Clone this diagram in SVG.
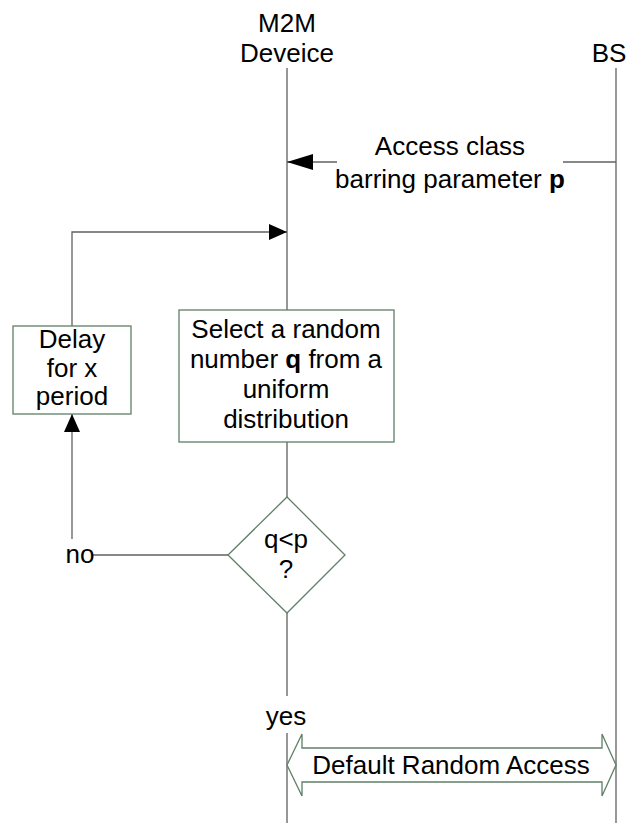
<svg xmlns="http://www.w3.org/2000/svg" width="635" height="823" viewBox="0 0 635 823">
  <style>
    text { font-family: "Liberation Sans", Arial, sans-serif; font-size: 26px; fill: #000; text-anchor: middle; }
    .life { stroke: #606060; stroke-width: 1.3; fill: none; }
    .conn { stroke: #606060; stroke-width: 1.3; fill: none; }
    .box { fill: #fff; stroke: #5f7f66; stroke-width: 1.3; }
    .b { font-weight: bold; }
  </style>
  <defs>
    <marker id="tri" viewBox="0 0 26 16" refX="26" refY="8" markerWidth="26" markerHeight="16" markerUnits="userSpaceOnUse" orient="auto">
      <path d="M0,0 L26,8 L0,16 Z" fill="#000"/>
    </marker>
    <marker id="triS" viewBox="0 0 18 16" refX="18" refY="8" markerWidth="18" markerHeight="16" markerUnits="userSpaceOnUse" orient="auto">
      <path d="M0,0 L18,8 L0,16 Z" fill="#000"/>
    </marker>
  </defs>

  <!-- lifeline headers -->
  <g id="m2m-device">
    <text x="287" y="32">M2M</text>
    <text x="287" y="62">Deveice</text>
  </g>
  <g id="bs">
    <text x="609" y="62">BS</text>
  </g>

  <!-- lifelines and connectors -->
  <g id="connectors">
    <path class="life" d="M287,68 V696 M287,733 V823"/>
    <path class="life" d="M616,68 V823"/>
    <!-- barring parameter message -->
    <path class="conn" d="M616,162 H563"/>
    <path class="conn" d="M337,162 H287" marker-end="url(#tri)"/>
    <!-- retry loop back to the lifeline -->
    <path class="conn" d="M72,326 V232 H287" marker-end="url(#triS)"/>
    <!-- "no" branch up to the delay -->
    <path class="conn" d="M93,555 H228"/>
    <path class="conn" d="M72,539 V414" marker-end="url(#triS)"/>
  </g>

  <g id="barring-label">
    <text x="450" y="155">Access class</text>
    <text x="450" y="188">barring parameter <tspan class="b">p</tspan></text>
  </g>

  <g id="delay">
    <rect class="box" x="13" y="326" width="118" height="88"/>
    <text x="72" y="348">Delay</text>
    <text x="72" y="377">for x</text>
    <text x="72" y="405">period</text>
  </g>

  <g id="select">
    <rect class="box" x="179" y="310" width="215" height="132"/>
    <text x="286" y="338">Select a random</text>
    <text x="286" y="368">number <tspan class="b">q</tspan> from a</text>
    <text x="286" y="398">uniform</text>
    <text x="286" y="428">distribution</text>
  </g>

  <g id="decision">
    <path class="box" d="M287,497 L345,555 L287,613 L228,555 Z"/>
    <text x="286" y="548">q&lt;p</text>
    <text x="286" y="578">?</text>
  </g>

  <g id="no-label">
    <text x="80" y="563">no</text>
  </g>

  <g id="yes-label">
    <text x="286" y="725">yes</text>
  </g>

  <g id="default-random-access">
    <path class="box" d="M287,765 L302,734 L302,748 L602,748 L602,734 L616,765 L602,796 L602,782 L302,782 L302,796 Z"/>
    <text x="451" y="774">Default Random Access</text>
  </g>
</svg>
